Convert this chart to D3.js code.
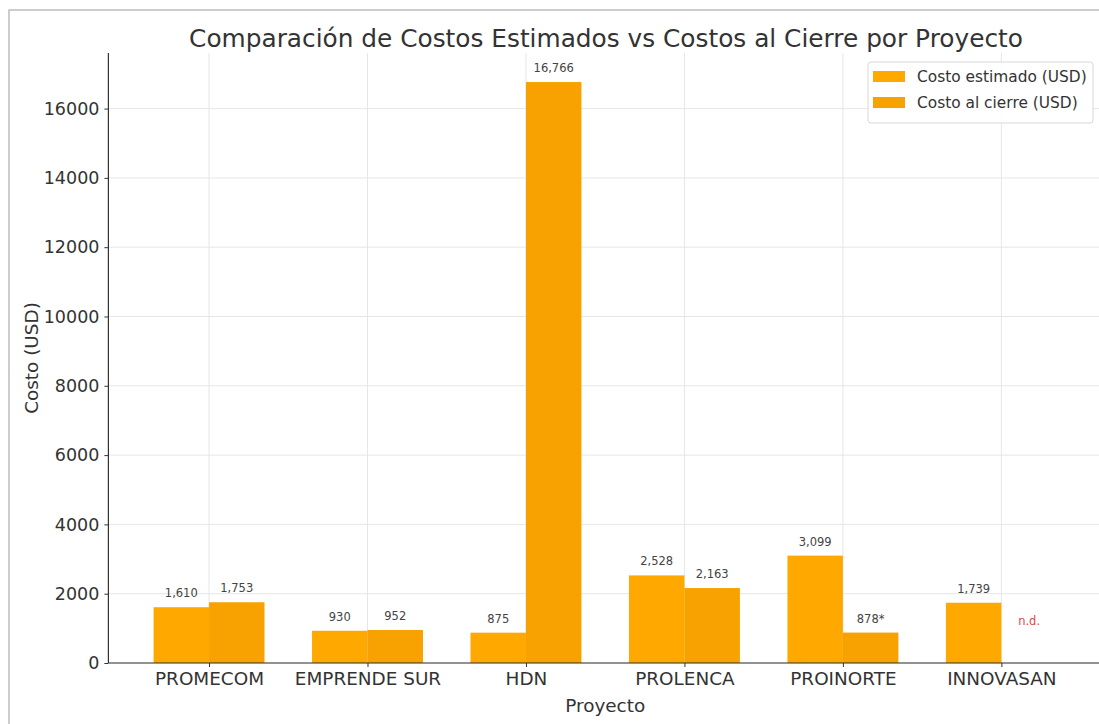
<!DOCTYPE html>
<html><head><meta charset="utf-8">
<script src="https://cdn.jsdelivr.net/npm/d3@7"></script>
<style>html,body{margin:0;padding:0;background:#fff;overflow:hidden}</style>
</head><body>
<svg id="c" width="1099" height="724"></svg>
<script>
const categories = ["PROMECOM","EMPRENDE SUR","HDN","PROLENCA","PROINORTE","INNOVASAN"];
const estimado = [1610, 930, 875, 2528, 3099, 1739];
const cierre = [1753, 952, 16766, 2163, 878, null];
const cierreLabels = ["1,753","952","16,766","2,163","878*","n.d."];
const yTicks = [0,2000,4000,6000,8000,10000,12000,14000,16000];
const seriesNames = ["Costo estimado (USD)","Costo al cierre (USD)"];
const colors = ["#FFA800","#F7A200"];

const svg = d3.select("#c");
const font = "DejaVu Sans, sans-serif";
const L = 108.4, R = 1102, T = 53, B = 663;
const ymax = d3.max(estimado.concat(cierre.filter(v=>v!=null))) * 1.05;
const y = d3.scaleLinear().domain([0, ymax]).range([B, T]);
const x = d3.scalePoint().domain(categories).range([L, R]).padding(0.635);
const bw = x.step() * 0.35;

// outer border
svg.append("rect").attr("x",9).attr("y",10).attr("width",1200).attr("height",800)
  .attr("fill","none").attr("stroke","#bdbdbd").attr("stroke-width",1.5);

// grid
const g = svg.append("g");
g.selectAll(".hg").data(yTicks).join("line")
  .attr("x1",L).attr("x2",R).attr("y1",d=>y(d)).attr("y2",d=>y(d))
  .attr("stroke","#e6e6e6").attr("stroke-width",1);
g.selectAll(".vg").data(categories).join("line")
  .attr("x1",d=>x(d)).attr("x2",d=>x(d)).attr("y1",T).attr("y2",B)
  .attr("stroke","#e6e6e6").attr("stroke-width",1);

// bars
svg.append("g").selectAll("rect").data(estimado).join("rect")
  .attr("x",(d,i)=>x(categories[i]) - bw).attr("width",bw)
  .attr("y",d=>y(d)).attr("height",d=>B - y(d)).attr("fill",colors[0]);
svg.append("g").selectAll("rect").data(cierre).join("rect")
  .attr("x",(d,i)=>x(categories[i])).attr("width",bw)
  .attr("y",d=>d==null?B:y(d)).attr("height",d=>d==null?0:B - y(d)).attr("fill",colors[1]);

// value labels
svg.append("g").selectAll("text").data(estimado).join("text")
  .attr("x",(d,i)=>x(categories[i]) - bw/2).attr("y",d=>y(d)-10)
  .attr("text-anchor","middle").attr("font-family",font).attr("font-size",11.5)
  .attr("fill","#444").text(d=>d3.format(",")(d));
const ndValue = 800;
svg.append("g").selectAll("text").data(cierre).join("text")
  .attr("x",(d,i)=>x(categories[i]) + bw/2).attr("y",d=>y(d==null?ndValue:d)-10)
  .attr("text-anchor","middle").attr("font-family",font).attr("font-size",11.5)
  .attr("fill",d=>d==null?"#e04848":"#444").text((d,i)=>cierreLabels[i]);

// axes
const ya = svg.append("g").attr("transform",`translate(${L},0)`)
  .call(d3.axisLeft(y).tickValues(yTicks).tickFormat(d3.format("d")).tickSize(4).tickPadding(5));
ya.select(".domain").attr("stroke","#333").attr("stroke-width",1.2).attr("d",`M0,${T}V${B}`);
ya.selectAll("text").attr("font-family",font).attr("font-size",17.5).attr("fill","#333");
ya.selectAll(".tick line").attr("stroke","#333");

const xa = svg.append("g").attr("transform",`translate(0,${B})`)
  .call(d3.axisBottom(x).tickSize(4).tickPadding(5));
xa.select(".domain").attr("stroke","#333").attr("stroke-width",1.2).attr("d",`M${L},0H${R}`);
xa.selectAll("text").attr("font-family",font).attr("font-size",18.4).attr("fill","#333");
xa.selectAll(".tick line").attr("stroke","#333");

// titles
svg.append("text").attr("x",606).attr("y",47).attr("text-anchor","middle")
  .attr("font-family",font).attr("font-size",24.8).attr("fill","#333")
  .text("Comparación de Costos Estimados vs Costos al Cierre por Proyecto");
svg.append("text").attr("x",(L+R)/2).attr("y",712).attr("text-anchor","middle")
  .attr("font-family",font).attr("font-size",18.4).attr("fill","#333").text("Proyecto");
svg.append("text").attr("transform",`translate(38,${(T+B)/2}) rotate(-90)`).attr("text-anchor","middle")
  .attr("font-family",font).attr("font-size",18.4).attr("fill","#333").text("Costo (USD)");

// legend
const lg = svg.append("g").attr("transform","translate(868,62)");
lg.append("rect").attr("width",225).attr("height",61).attr("rx",3)
  .attr("fill","#fff").attr("fill-opacity",0.85).attr("stroke","#d8d8d8");
seriesNames.forEach((n,i)=>{
  lg.append("rect").attr("x",5).attr("y",9+i*26).attr("width",32).attr("height",11).attr("fill",colors[i]);
  lg.append("text").attr("x",49).attr("y",20+i*26).attr("font-family",font).attr("font-size",15.4)
    .attr("fill","#333").text(n);
});
</script>
</body></html>
